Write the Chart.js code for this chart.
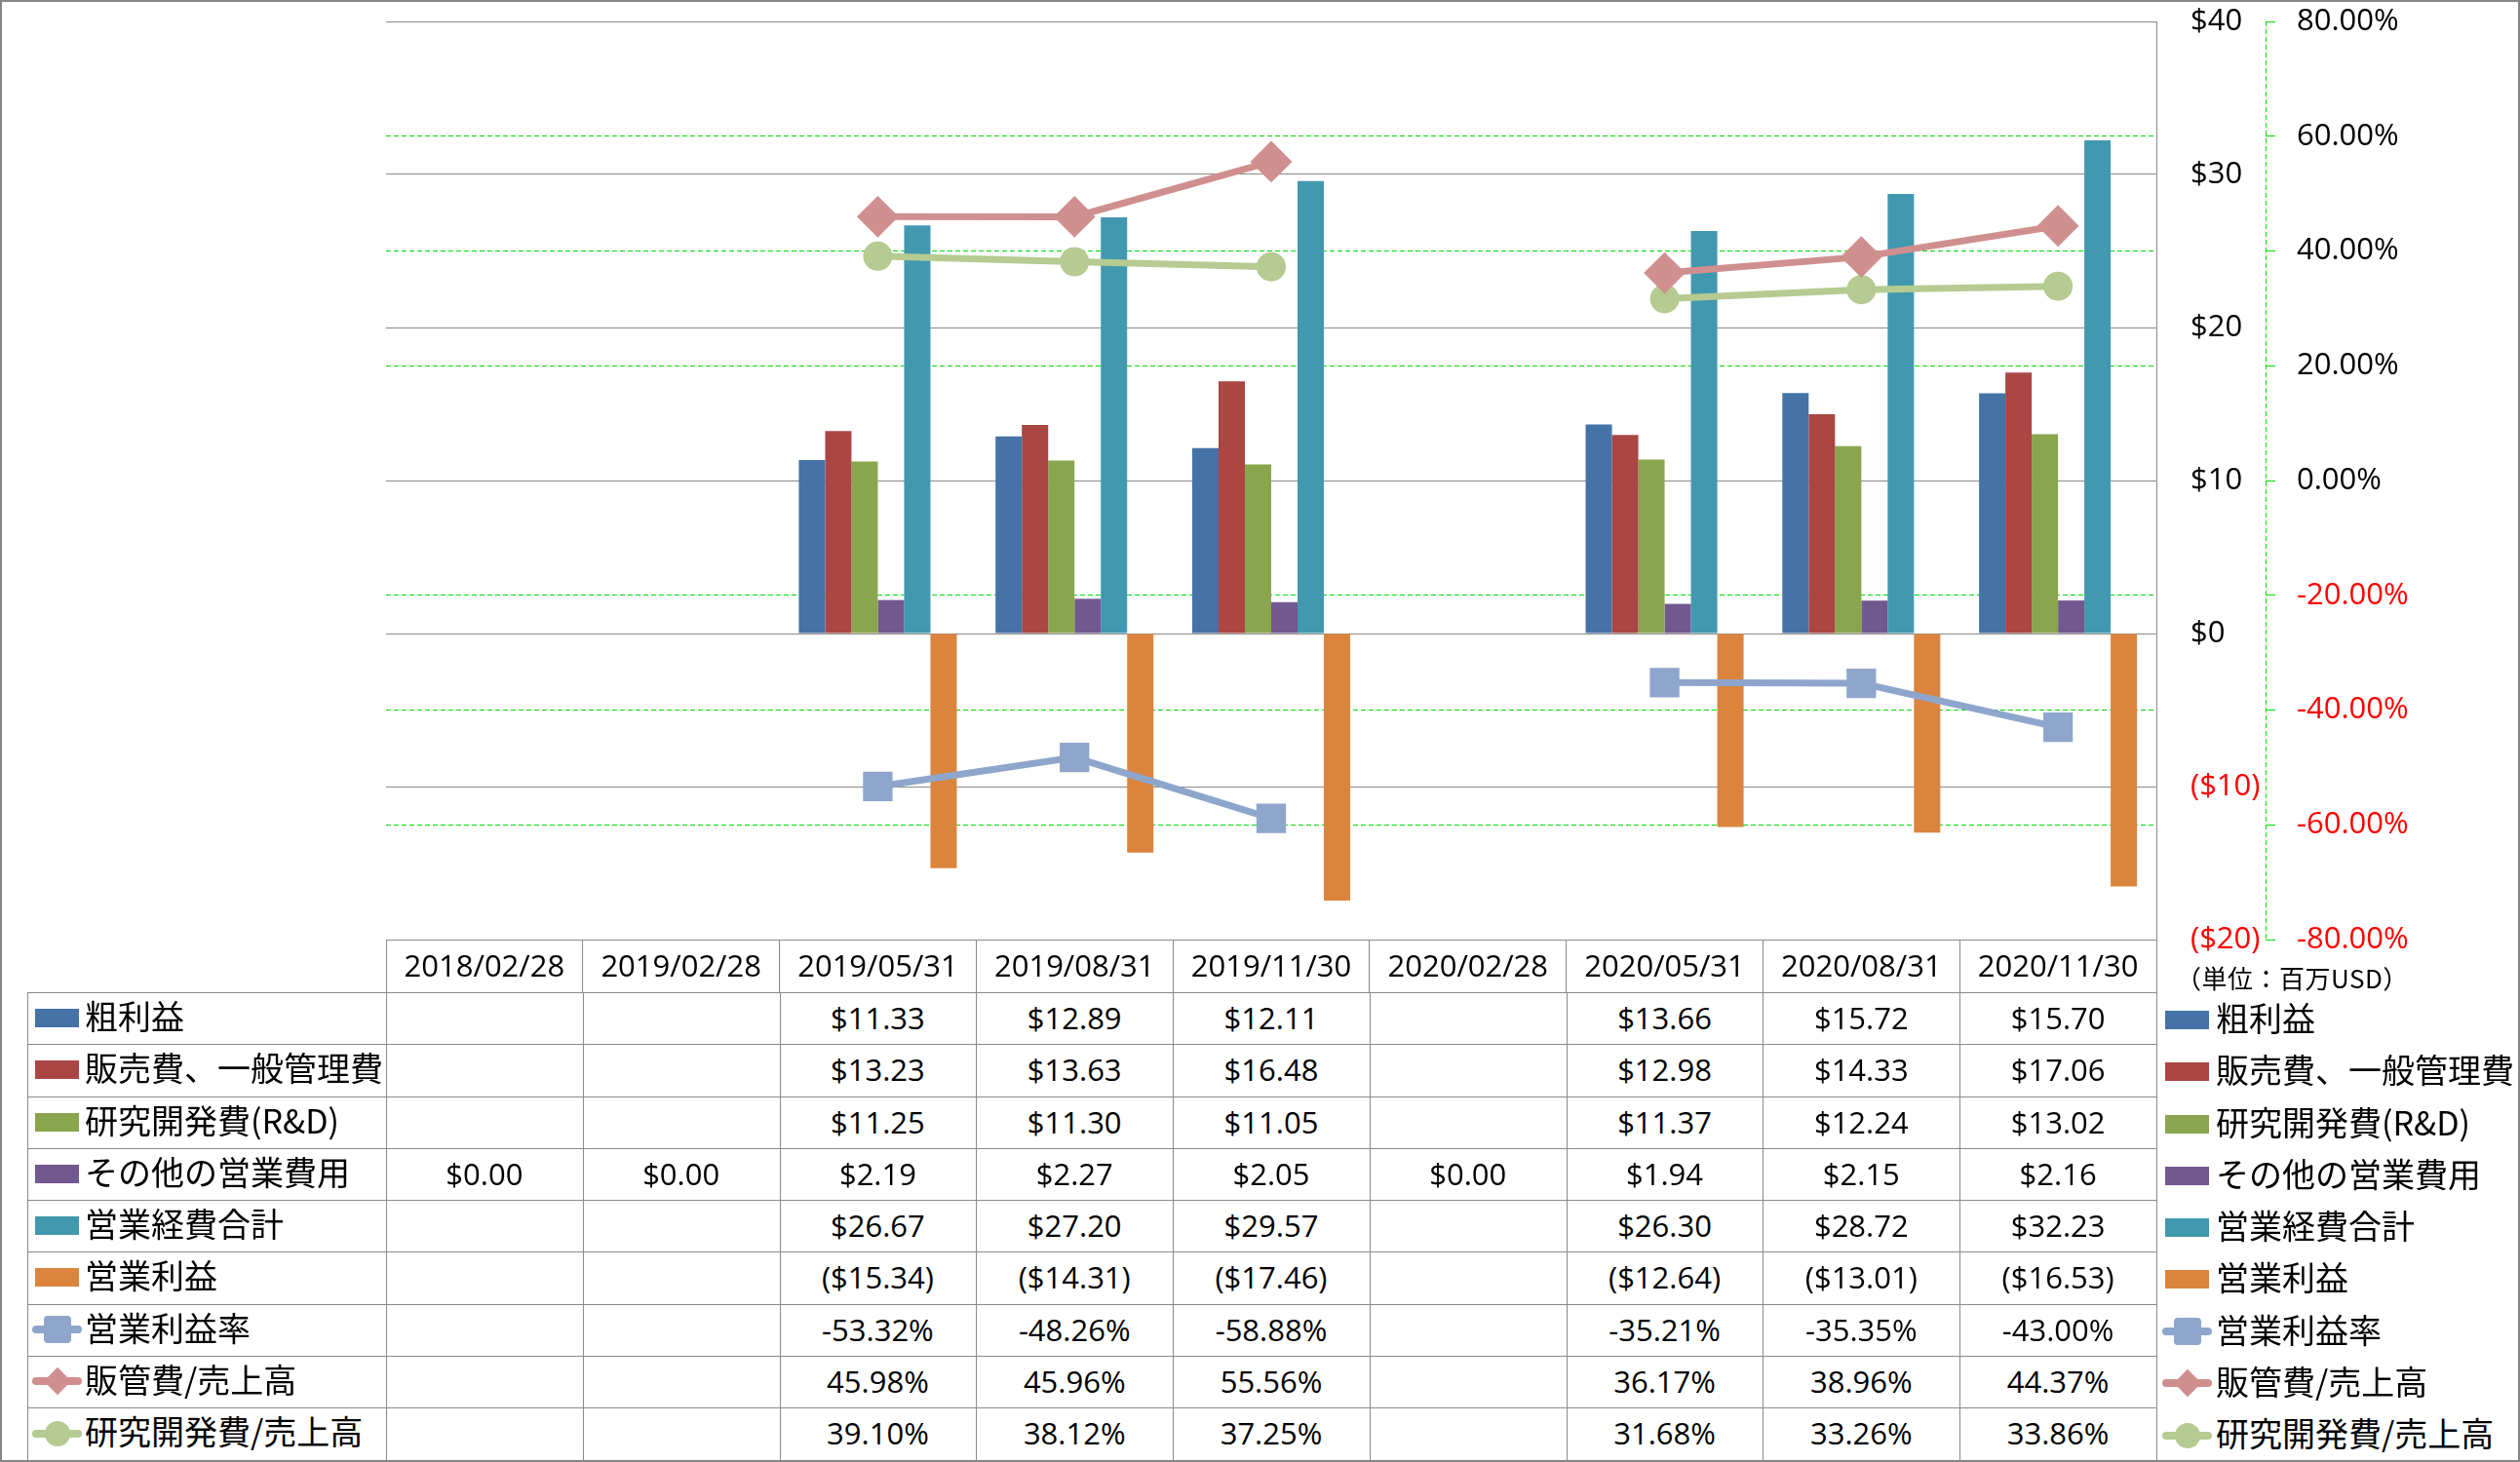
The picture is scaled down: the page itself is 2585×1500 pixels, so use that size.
<!DOCTYPE html>
<html><head><meta charset="utf-8">
<script src="https://cdn.jsdelivr.net/npm/chart.js@4.4.0/dist/chart.umd.min.js"></script>
<style>
html,body{margin:0;padding:0;background:#fff;}
#wrap{position:relative;width:2585px;height:1500px;overflow:hidden;background:#fff;}
#frame{position:absolute;left:0;top:0;width:2585px;height:1500px;box-sizing:border-box;border:2px solid #868686;pointer-events:none;z-index:5}
#c{position:absolute;left:0;top:0;width:2585px;height:1018px;}
.cell{position:absolute;font-family:'Open Sans';font-size:31px;color:#000;text-align:center;white-space:nowrap;line-height:53px;height:53px;}
.lab{position:absolute;font-family:'Noto Sans CJK JP';font-size:34px;color:#000;white-space:nowrap;line-height:53px;height:53px;}
.hl{position:absolute;height:1px;background:#8a8a8a}
.vl{position:absolute;width:1px;background:#8a8a8a}
.key{position:absolute}
</style></head>
<body><div id="wrap"><canvas id="c" width="2585" height="1018"></canvas><div id="tbl"></div><div id="frame"></div></div>
<script>
// ---- data ----
const categories = ['2018/02/28','2019/02/28','2019/05/31','2019/08/31','2019/11/30','2020/02/28','2020/05/31','2020/08/31','2020/11/30'];
const grossProfit   = [null, null, 11.33, 12.89, 12.11, null, 13.66, 15.72, 15.70];
const sgaExpense    = [null, null, 13.23, 13.63, 16.48, null, 12.98, 14.33, 17.06];
const rndExpense    = [null, null, 11.25, 11.30, 11.05, null, 11.37, 12.24, 13.02];
const otherOpex     = [0.00, 0.00, 2.19, 2.27, 2.05, 0.00, 1.94, 2.15, 2.16];
const totalOpex     = [null, null, 26.67, 27.20, 29.57, null, 26.30, 28.72, 32.23];
const operatingInc  = [null, null, -15.34, -14.31, -17.46, null, -12.64, -13.01, -16.53];
const opMargin      = [null, null, -53.32, -48.26, -58.88, null, -35.21, -35.35, -43.00];
const sgaRatio      = [null, null, 45.98, 45.96, 55.56, null, 36.17, 38.96, 44.37];
const rndRatio      = [null, null, 39.10, 38.12, 37.25, null, 31.68, 33.26, 33.86];
const seriesNames = ['粗利益','販売費、一般管理費','研究開発費(R&D)','その他の営業費用','営業経費合計','営業利益','営業利益率','販管費/売上高','研究開発費/売上高'];
const unitLabel = '（単位：百万USD）';

// ---- styles ----
const barColors = ['#4572A7','#AA4643','#89A54E','#71588F','#4198AF','#DB843D'];
const lineColors = ['#8EA6CC','#D08F8F','#B5CB92'];
const lineStyles = ['rect','rectRot','circle'];
const lineRadius = [20,20,14];
const GRAY = '#8a8a8a', GREEN = '#00dd00', RED = '#ff0000';

const barSeries = [grossProfit, sgaExpense, rndExpense, otherOpex, totalOpex, operatingInc];
const lineSeries = [opMargin, sgaRatio, rndRatio];

const datasets = [];
barSeries.forEach((d,i)=>datasets.push({
  type:'bar', label:seriesNames[i], data:d, yAxisID:'y', order:1,
  backgroundColor:barColors[i], borderWidth:0, categoryPercentage:0.803, barPercentage:1.0
}));
lineSeries.forEach((d,i)=>datasets.push({
  type:'line', label:seriesNames[6+i], data:d, yAxisID:'y1', order:0,
  borderColor:lineColors[i], backgroundColor:lineColors[i], borderWidth:7, tension:0, spanGaps:false,
  pointStyle:lineStyles[i], pointRadius:lineRadius[i], pointHoverRadius:lineRadius[i],
  pointBackgroundColor:lineColors[i], pointBorderColor:lineColors[i], pointBorderWidth:2
}));

const tickFont = {family:'Open Sans', size:31};

const dottedBorder = {
  id:'dottedBorder',
  afterDraw(chart){
    const s = chart.scales.y1, ctx = chart.ctx;
    ctx.save();
    ctx.strokeStyle = GREEN; ctx.lineWidth = 1; ctx.setLineDash([5,3]);
    const x = Math.round(s.left)+0.5;
    ctx.beginPath(); ctx.moveTo(x, s.top); ctx.lineTo(x, s.bottom); ctx.stroke();
    ctx.restore();
  }
};

const chart = new Chart(document.getElementById('c'), {
  type:'bar',
  data:{labels:categories, datasets},
  options:{
    responsive:false, animation:false, devicePixelRatio:1,
    layout:{padding:{left:396, top:21, right:0, bottom:0}},
    plugins:{legend:{display:false}, tooltip:{enabled:false}},
    scales:{
      x:{
        position:'bottom',
        grid:{offset:true, drawOnChartArea:false, drawTicks:true, tickLength:54, color:GRAY, tickColor:GRAY, lineWidth:1},
        border:{display:true, color:GRAY, width:1},
        ticks:{font:tickFont, color:'#000', padding:-43, maxRotation:0, minRotation:0, autoSkip:false},
        afterFit(s){ s.height = 54; s.paddingLeft = 0; s.paddingRight = 0; }
      },
      y:{
        position:'right', min:-20, max:40,
        grid:{color:GRAY, lineWidth:1, drawTicks:false},
        border:{display:true, color:GRAY, width:1},
        ticks:{stepSize:10, font:tickFont, padding:35,
          color:(c)=> c.tick && c.tick.value < 0 ? RED : '#000',
          callback:(v)=> v < 0 ? '($' + (-v) + ')' : '$' + v},
        afterFit(s){ s.width = 112; s.paddingTop = 0; s.paddingBottom = 0; }
      },
      y1:{
        position:'right', min:-80, max:80,
        grid:{drawOnChartArea:true, drawTicks:true, tickLength:10, lineWidth:1, tickColor:GREEN,
          color:(c)=> (c.tick && (c.tick.value === 0 || c.tick.value === 80 || c.tick.value === -80)) ? 'rgba(0,0,0,0)' : GREEN},
        border:{display:false, dash:[5,3]},
        ticks:{stepSize:20, font:tickFont, padding:22,
          color:(c)=> c.tick && c.tick.value < 0 ? RED : '#000',
          callback:(v)=> v.toFixed(2) + '%'},
        afterFit(s){ s.width = 261; s.paddingTop = 0; s.paddingBottom = 0; }
      }
    }
  },
  plugins:[dottedBorder]
});

// ---- data table (Excel style) ----
const tbl = document.getElementById('tbl');
function add(cls, styles, text){
  const d = document.createElement('div'); d.className = cls;
  Object.assign(d.style, styles); if(text!==undefined) d.textContent = text; tbl.appendChild(d); return d;
}
const ca = chart.chartArea;
const colW = (ca.right - ca.left) / categories.length;
const tableTop = 1018, rowH = 53.25, tableBottom = 1498, legLeft = 28;
const fmtD = v => v==null ? '' : (v < 0 ? '($' + (-v).toFixed(2) + ')' : '$' + v.toFixed(2));
const fmtP = v => v==null ? '' : v.toFixed(2) + '%';
const rows = [
  {s:grossProfit,f:fmtD},{s:sgaExpense,f:fmtD},{s:rndExpense,f:fmtD},{s:otherOpex,f:fmtD},
  {s:totalOpex,f:fmtD},{s:operatingInc,f:fmtD},{s:opMargin,f:fmtP},{s:sgaRatio,f:fmtP},{s:rndRatio,f:fmtP}
];
// grid lines
for(let i=0;i<rows.length;i++){
  add('hl',{left:legLeft+'px', top:(tableTop+i*rowH)+'px', width:(ca.right-legLeft)+'px'});
}
add('vl',{left:legLeft+'px', top:tableTop+'px', height:(tableBottom-tableTop)+'px'});
for(let k=0;k<=categories.length;k++){
  add('vl',{left:Math.round(ca.left + k*colW)+'px', top:tableTop+'px', height:(tableBottom-tableTop)+'px'});
}
function legendKey(i, x, cy){
  if(i < 6){
    add('key',{left:x+'px', top:(cy-9.5)+'px', width:'45px', height:'19px', background:barColors[i]});
  } else {
    const c = lineColors[i-6];
    add('key',{left:(x-3)+'px', top:(cy-4)+'px', width:'51px', height:'8px', borderRadius:'4px', background:c});
    const mx = x - 3 + 25.5;
    if(i===6) add('key',{left:(mx-14)+'px', top:(cy-14)+'px', width:'28px', height:'28px', borderRadius:'4px', background:c});
    if(i===7) add('key',{left:(mx-10)+'px', top:(cy-10)+'px', width:'20px', height:'20px', background:c, transform:'rotate(45deg)'});
    if(i===8) add('key',{left:(mx-13)+'px', top:(cy-13)+'px', width:'26px', height:'26px', borderRadius:'50%', background:c});
  }
}
rows.forEach((r,i)=>{
  const top = tableTop + i*rowH;
  const cy = top + rowH/2;
  legendKey(i, 36, cy);
  add('lab',{left:'87px', top:(top-3)+'px'}, seriesNames[i]);
  r.s.forEach((v,j)=>{
    const t = r.f(v);
    if(t) add('cell',{left:(ca.left + j*colW)+'px', top:top+'px', width:colW+'px'}, t);
  });
  // right-side legend
  legendKey(i, 2221, cy+2);
  add('lab',{left:'2273px', top:(top-1)+'px'}, seriesNames[i]);
});
add('lab',{left:'2232px', top:'976px', fontSize:'26px', letterSpacing:'0.5px', lineHeight:'53px'}, unitLabel);
</script>
</body></html>
